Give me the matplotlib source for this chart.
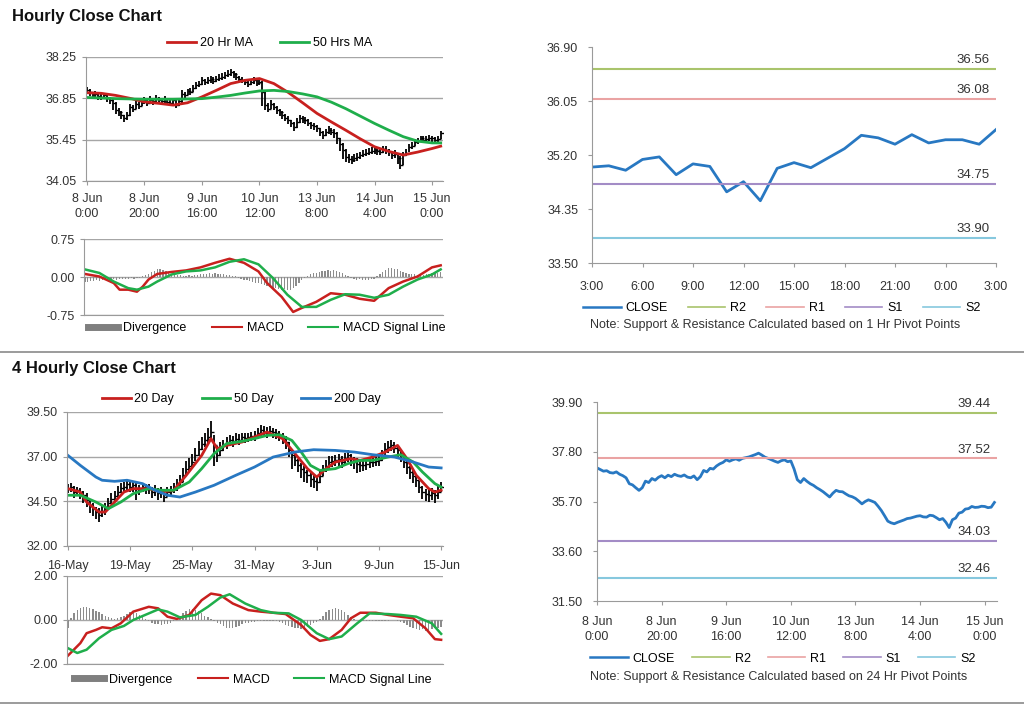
"""Hourly and 4-hourly close charts with MACD and pivot levels."""

import matplotlib

matplotlib.use("Agg")

import matplotlib.pyplot as plt
from matplotlib.lines import Line2D
from matplotlib.ticker import FormatStrFormatter

plt.rcParams["font.family"] = ["Liberation Sans", "DejaVu Sans"]

# ---------------- hourly data (8 Jun 0:00 -> 15 Jun ~3:00) ----------------
hourly_close = [
    37.12, 37.05, 36.98, 37.00, 36.92, 36.90, 36.95, 36.85, 36.79, 36.70,
    36.45, 36.40, 36.28, 36.17, 36.28, 36.56, 36.50, 36.67, 36.60, 36.72,
    36.79, 36.70, 36.81, 36.75, 36.85, 36.79, 36.76, 36.82, 36.73, 36.70,
    36.78, 36.62, 36.75, 37.01, 36.95, 37.10, 37.07, 37.20, 37.29, 37.35,
    37.46, 37.40, 37.46, 37.50, 37.44, 37.52, 37.55, 37.58, 37.63, 37.68,
    37.74, 37.66, 37.57, 37.52, 37.46, 37.40, 37.35, 37.42, 37.46, 37.38,
    37.41, 37.07, 36.62, 36.50, 36.67, 36.55, 36.45, 36.38, 36.28, 36.20,
    36.11, 36.00, 35.89, 36.05, 36.17, 36.12, 36.11, 36.02, 35.94, 35.90,
    35.83, 35.72, 35.60, 35.70, 35.77, 35.72, 35.66, 35.50, 35.32, 35.10,
    34.87, 34.80, 34.76, 34.82, 34.87, 34.92, 34.98, 35.00, 35.04, 35.08,
    35.10, 35.05, 35.04, 35.12, 35.10, 35.02, 34.93, 34.98, 34.82, 34.60,
    34.93, 35.00, 35.21, 35.25, 35.38, 35.40, 35.49, 35.45, 35.46, 35.50,
    35.49, 35.44, 35.46, 35.66,
]
hourly_high = [
    37.25, 37.15, 37.08, 37.10, 37.02, 36.98, 37.02, 36.97, 36.88, 36.82,
    36.72, 36.52, 36.42, 36.30, 36.38, 36.65, 36.62, 36.76, 36.72, 36.80,
    36.90, 36.82, 36.92, 36.86, 36.95, 36.90, 36.86, 36.92, 36.84, 36.80,
    36.86, 36.78, 36.85, 37.12, 37.08, 37.18, 37.20, 37.30, 37.40, 37.45,
    37.58, 37.52, 37.56, 37.60, 37.56, 37.62, 37.66, 37.70, 37.74, 37.80,
    37.86, 37.78, 37.70, 37.62, 37.56, 37.50, 37.46, 37.52, 37.58, 37.50,
    37.52, 37.45, 37.10, 36.70, 36.80, 36.70, 36.58, 36.50, 36.42, 36.32,
    36.24, 36.12, 36.05, 36.18, 36.28, 36.25, 36.22, 36.14, 36.06, 36.02,
    35.96, 35.86, 35.75, 35.82, 35.90, 35.84, 35.80, 35.70, 35.52, 35.35,
    35.12, 34.95, 34.90, 34.95, 35.00, 35.04, 35.10, 35.12, 35.16, 35.20,
    35.22, 35.18, 35.16, 35.24, 35.22, 35.14, 35.06, 35.10, 35.00, 34.90,
    35.04, 35.12, 35.32, 35.36, 35.48, 35.52, 35.58, 35.56, 35.57, 35.60,
    35.58, 35.55, 35.57, 35.75,
]
hourly_low = [
    37.00, 36.92, 36.86, 36.88, 36.80, 36.78, 36.82, 36.74, 36.66, 36.45,
    36.32, 36.26, 36.15, 36.05, 36.12, 36.25, 36.38, 36.48, 36.50, 36.58,
    36.66, 36.60, 36.68, 36.64, 36.72, 36.68, 36.65, 36.70, 36.62, 36.58,
    36.65, 36.52, 36.58, 36.70, 36.85, 36.95, 36.96, 37.05, 37.15, 37.22,
    37.30, 37.30, 37.34, 37.38, 37.34, 37.40, 37.44, 37.46, 37.52, 37.56,
    37.60, 37.54, 37.46, 37.42, 37.36, 37.30, 37.24, 37.30, 37.35, 37.28,
    37.30, 36.60, 36.45, 36.38, 36.50, 36.44, 36.33, 36.26, 36.16, 36.08,
    35.98, 35.88, 35.76, 35.86, 36.02, 36.00, 35.98, 35.90, 35.82, 35.78,
    35.70, 35.58, 35.48, 35.56, 35.64, 35.60, 35.52, 35.30, 35.05, 34.80,
    34.70, 34.66, 34.62, 34.68, 34.74, 34.80, 34.86, 34.88, 34.92, 34.96,
    34.98, 34.94, 34.92, 35.00, 34.98, 34.90, 34.80, 34.84, 34.62, 34.45,
    34.60, 34.88, 35.02, 35.12, 35.25, 35.30, 35.38, 35.35, 35.36, 35.40,
    35.38, 35.34, 35.36, 35.48,
]
hourly_ticks = ["8 Jun\n0:00", "8 Jun\n20:00", "9 Jun\n16:00", "10 Jun\n12:00",
                "13 Jun\n8:00", "14 Jun\n4:00", "15 Jun\n0:00"]

ma_x = [0, 5, 10, 15, 20, 25, 30, 35, 40, 45, 50, 55, 60, 65, 70, 75, 80, 85,
        90, 95, 100, 105, 110, 115, 120, 123]
ma20_hr = [37.04, 37.02, 36.95, 36.85, 36.73, 36.68, 36.62, 36.70, 36.90, 37.12,
           37.35, 37.46, 37.52, 37.35, 37.05, 36.70, 36.34, 36.05, 35.77, 35.48,
           35.21, 35.05, 34.93, 35.03, 35.15, 35.23]
ma50_hr = [36.88, 36.86, 36.84, 36.83, 36.82, 36.82, 36.82, 36.83, 36.84, 36.89,
           36.95, 37.03, 37.10, 37.12, 37.08, 37.00, 36.90, 36.72, 36.50, 36.25,
           36.00, 35.77, 35.55, 35.40, 35.34, 35.34]

macd_hr_x = [0, 5, 10, 12, 15, 18, 20, 22, 25, 30, 35, 40, 45, 50, 55, 60, 63,
             68, 72, 75, 80, 85, 90, 95, 100, 105, 110, 115, 120, 123]
macd_hr = [0.06, 0.01, -0.12, -0.25, -0.25, -0.29, -0.19, -0.05, 0.06, 0.10,
           0.13, 0.19, 0.28, 0.36, 0.28, 0.11, -0.12, -0.39, -0.69, -0.61,
           -0.49, -0.32, -0.35, -0.43, -0.47, -0.22, -0.09, 0.01, 0.19, 0.23]
signal_hr_x = [0, 5, 10, 15, 18, 22, 25, 30, 35, 40, 45, 50, 55, 60, 65, 70, 75,
               80, 85, 90, 95, 100, 105, 110, 115, 120, 123]
signal_hr = [0.15, 0.08, -0.09, -0.22, -0.25, -0.19, -0.09, 0.05, 0.11, 0.13,
             0.19, 0.30, 0.35, 0.25, -0.02, -0.35, -0.59, -0.59, -0.45, -0.34,
             -0.35, -0.41, -0.35, -0.19, -0.05, 0.05, 0.15]
div_hr = [
    -0.09, -0.10, -0.08, -0.07, -0.06, -0.07, -0.05, -0.06, -0.04, -0.05,
    -0.04, -0.05, -0.03, -0.04, -0.03, -0.03, -0.02, -0.03, -0.02, -0.01,
    0.01, 0.03, 0.06, 0.09, 0.12, 0.15, 0.16, 0.14, 0.12, 0.09,
    0.06, 0.05, 0.04, 0.03, 0.02, 0.02, 0.03, 0.02, 0.03, 0.04,
    0.05, 0.06, 0.05, 0.07, 0.06, 0.07, 0.06, 0.05, 0.05, 0.04,
    0.03, 0.02, 0.01, -0.01, -0.03, -0.05, -0.06, -0.08, -0.10, -0.11,
    -0.12, -0.14, -0.16, -0.18, -0.20, -0.22, -0.21, -0.23, -0.25, -0.24,
    -0.26, -0.25, -0.22, -0.18, -0.12, -0.06, -0.02, 0.02, 0.05, 0.07,
    0.08, 0.10, 0.11, 0.12, 0.13, 0.12, 0.14, 0.12, 0.10, 0.07,
    0.03, 0.01, -0.02, -0.04, -0.05, -0.04, -0.05, -0.06, -0.05, -0.04,
    -0.03, 0.02, 0.06, 0.10, 0.14, 0.17, 0.18, 0.16, 0.15, 0.12,
    0.10, 0.08, 0.06, 0.05, 0.05, 0.04, 0.05, 0.04, 0.05, 0.06,
    0.07, 0.08, 0.08, 0.09,
]

# 1 hr pivot chart (last 24 hours)
pivot1_labels = ["3:00", "6:00", "9:00", "12:00", "15:00", "18:00", "21:00", "0:00", "3:00"]
pivot1_close = [35.01, 35.03, 34.96, 35.13, 35.17, 34.89, 35.06, 35.02, 34.62, 34.78,
                34.48, 34.99, 35.08, 35.00, 35.15, 35.30, 35.51, 35.47, 35.37, 35.52,
                35.39, 35.44, 35.44, 35.37, 35.60]
pivot1_levels = {"R2": 36.56, "R1": 36.08, "S1": 34.75, "S2": 33.90}

# 24 hr pivot chart (hourly closes)
pivot24_levels = {"R2": 39.44, "R1": 37.52, "S1": 34.03, "S2": 32.46}

# ---------------- 4 hourly data (16 May -> 15 Jun) ----------------
fourh_close = [
    35.21, 35.30, 35.05, 35.12, 35.00, 34.84, 34.60, 34.28, 34.10, 33.90,
    33.72, 33.95, 34.09, 34.40, 34.65, 34.80, 35.02, 35.25, 35.30, 35.45,
    35.30, 35.40, 35.21, 35.15, 35.30, 35.20, 35.21, 35.00, 35.12, 34.95,
    35.02, 34.75, 35.02, 35.10, 35.21, 35.40, 35.58, 35.95, 36.33, 36.50,
    36.70, 37.10, 37.45, 37.70, 37.91, 38.10, 38.38, 37.63, 37.07, 37.40,
    37.63, 37.80, 37.91, 37.85, 38.01, 37.95, 38.10, 38.05, 38.10, 38.15,
    38.19, 38.30, 38.47, 38.40, 38.38, 38.45, 38.38, 38.30, 38.19, 38.05,
    37.82, 37.40, 37.07, 36.80, 36.51, 36.30, 36.14, 35.95, 35.77, 35.65,
    35.58, 35.90, 36.23, 36.50, 36.70, 36.75, 36.79, 36.85, 36.70, 36.90,
    37.07, 36.85, 36.70, 36.60, 36.51, 36.55, 36.61, 36.70, 36.70, 36.75,
    36.79, 37.10, 37.45, 37.55, 37.63, 37.50, 37.35, 37.05, 36.70, 36.40,
    36.14, 35.90, 35.68, 35.30, 35.02, 34.90, 34.84, 34.95, 34.84, 35.00,
    35.30,
]
fourh_high = [
    35.45, 35.50, 35.35, 35.32, 35.25, 35.10, 34.95, 34.60, 34.40, 34.20,
    34.10, 34.25, 34.40, 34.70, 34.95, 35.10, 35.35, 35.55, 35.60, 35.70,
    35.60, 35.65, 35.50, 35.42, 35.55, 35.45, 35.48, 35.30, 35.40, 35.25,
    35.30, 35.10, 35.30, 35.35, 35.50, 35.75, 35.95, 36.35, 36.75, 36.95,
    37.15, 37.50, 37.85, 38.10, 38.30, 38.60, 39.00, 38.20, 37.60, 37.80,
    37.95, 38.10, 38.20, 38.15, 38.30, 38.25, 38.35, 38.30, 38.35, 38.40,
    38.45, 38.60, 38.75, 38.70, 38.65, 38.70, 38.62, 38.55, 38.45, 38.35,
    38.15, 37.80, 37.45, 37.15, 36.85, 36.65, 36.45, 36.25, 36.10, 35.95,
    35.90, 36.20, 36.55, 36.80, 37.05, 37.05, 37.10, 37.15, 37.05, 37.20,
    37.40, 37.15, 37.00, 36.90, 36.85, 36.85, 36.90, 37.00, 37.00, 37.05,
    37.10, 37.40, 37.75, 37.85, 37.95, 37.80, 37.65, 37.40, 37.05, 36.75,
    36.45, 36.25, 36.00, 35.65, 35.35, 35.20, 35.15, 35.25, 35.15, 35.35,
    35.60,
]
fourh_low = [
    34.95, 35.00, 34.70, 34.80, 34.65, 34.40, 34.20, 33.85, 33.70, 33.50,
    33.35, 33.60, 33.75, 34.05, 34.35, 34.50, 34.70, 34.95, 35.00, 35.10,
    35.00, 35.05, 34.60, 34.85, 35.00, 34.90, 34.90, 34.70, 34.80, 34.55,
    34.70, 34.45, 34.75, 34.80, 34.95, 35.10, 35.30, 35.60, 35.95, 36.15,
    36.35, 36.75, 37.05, 37.35, 37.55, 37.75, 37.90, 36.50, 36.70, 37.05,
    37.30, 37.45, 37.60, 37.55, 37.70, 37.65, 37.80, 37.75, 37.80, 37.85,
    37.90, 38.00, 38.15, 38.10, 38.05, 38.15, 38.05, 38.00, 37.90, 37.70,
    37.45, 37.00, 36.30, 36.45, 36.15, 35.80, 35.60, 35.55, 35.30, 35.25,
    35.10, 35.55, 35.90, 36.15, 36.35, 36.40, 36.45, 36.50, 36.35, 36.55,
    36.70, 36.45, 36.30, 36.10, 36.15, 36.20, 36.25, 36.35, 36.40, 36.45,
    36.50, 36.75, 37.10, 37.20, 37.30, 37.20, 37.00, 36.70, 36.35, 36.05,
    35.75, 35.55, 35.30, 34.95, 34.65, 34.50, 34.45, 34.60, 34.40, 34.65,
    35.00,
]
fourh_ticks = ["16-May", "19-May", "25-May", "31-May", "3-Jun", "9-Jun", "15-Jun"]

ma20_4h_x = [0, 4, 6, 10, 12, 15, 18, 21, 26, 30, 34, 38, 43, 46, 48, 51, 56,
             60, 64, 69, 73, 77, 80, 83, 86, 91, 94, 98, 102, 106, 109, 112,
             116, 118, 120]
ma20_4h = [35.21, 35.02, 34.46, 33.90, 33.90, 34.46, 35.02, 35.21, 35.21, 35.02,
           35.12, 35.95, 37.07, 38.01, 37.45, 37.63, 37.82, 38.10, 38.38, 38.01,
           37.17, 36.33, 35.86, 36.33, 36.70, 36.89, 36.79, 36.98, 37.26, 37.63,
           36.89, 35.96, 35.21, 35.02, 35.12]
ma50_4h_x = [0, 4, 9, 13, 17, 21, 26, 30, 34, 39, 43, 47, 51, 56, 60, 64, 68, 72,
             75, 78, 81, 86, 90, 94, 98, 103, 107, 111, 114, 118, 120]
ma50_4h = [34.84, 34.84, 34.46, 34.09, 34.46, 34.93, 35.21, 35.12, 35.12, 35.58,
           36.33, 37.17, 37.73, 37.86, 38.01, 38.19, 38.23, 37.91, 37.26, 36.51,
           36.23, 36.33, 36.61, 36.79, 36.79, 36.98, 37.11, 36.70, 36.14, 35.49,
           35.30]
ma200_4h_x = [0, 4, 9, 11, 15, 19, 24, 28, 32, 36, 41, 47, 54, 60, 66, 73, 79,
              86, 92, 98, 105, 111, 116, 120]
ma200_4h = [37.07, 36.51, 35.86, 35.68, 35.62, 35.68, 35.49, 35.12, 34.84, 34.74,
            35.02, 35.40, 35.96, 36.42, 36.98, 37.26, 37.39, 37.35, 37.26, 37.11,
            36.98, 36.70, 36.42, 36.37]

macd_4h_x = [0, 4, 6, 9, 11, 14, 17, 21, 26, 29, 32, 35, 39, 43, 46, 49, 53, 58,
             62, 66, 70, 75, 78, 81, 84, 88, 91, 94, 99, 103, 107, 111, 115,
             118, 120]
macd_4h = [-1.62, -1.05, -0.60, -0.45, -0.33, -0.38, -0.15, 0.38, 0.60, 0.53,
           0.15, 0.05, 0.23, 0.90, 1.20, 1.13, 0.75, 0.45, 0.38, 0.33,
           0.27, -0.23, -0.68, -0.95, -0.87, -0.45, 0.08, 0.33, 0.33, 0.23,
           0.15, 0.08, -0.38, -0.87, -0.90]
signal_4h_x = [0, 3, 6, 10, 14, 18, 21, 26, 29, 32, 36, 41, 45, 49, 52, 57, 62,
               66, 71, 75, 80, 84, 88, 93, 97, 103, 107, 112, 117, 120]
signal_4h = [-1.28, -1.50, -1.35, -0.83, -0.45, -0.27, 0.00, 0.30, 0.48, 0.38,
             0.12, 0.23, 0.60, 1.02, 1.17, 0.75, 0.45, 0.33, 0.30, 0.00,
             -0.60, -0.87, -0.75, -0.15, 0.30, 0.27, 0.23, 0.15, -0.15, -0.63]
div_4h = [
    -0.35, 0.10, 0.30, 0.45, 0.55, 0.60, 0.58, 0.55, 0.48, 0.42,
    0.35, 0.28, 0.20, 0.15, 0.10, 0.06, 0.08, 0.15, 0.20, 0.28,
    0.35, 0.38, 0.30, 0.22, 0.12, 0.05, -0.05, -0.12, -0.18, -0.20,
    -0.22, -0.20, -0.18, -0.12, -0.05, 0.05, 0.15, 0.30, 0.42, 0.48,
    0.50, 0.45, 0.40, 0.30, 0.20, 0.12, 0.05, -0.05, -0.12, -0.20,
    -0.28, -0.35, -0.38, -0.36, -0.30, -0.25, -0.20, -0.15, -0.12, -0.10,
    -0.08, -0.06, -0.05, -0.04, -0.05, -0.04, -0.03, -0.05, -0.10, -0.15,
    -0.22, -0.28, -0.32, -0.35, -0.38, -0.40, -0.35, -0.30, -0.22, -0.15,
    -0.08, 0.05, 0.20, 0.35, 0.45, 0.50, 0.55, 0.52, 0.45, 0.35,
    0.25, 0.12, 0.05, -0.02, -0.05, -0.06, -0.05, -0.06, -0.04, -0.05,
    -0.06, -0.05, -0.04, -0.03, -0.02, 0.02, -0.03, -0.08, -0.15, -0.22,
    -0.30, -0.35, -0.40, -0.45, -0.42, -0.48, -0.45, -0.40, -0.35, -0.38,
    -0.30,
]

# ---------------- styling ----------------
RED = "#c8201e"
GREEN = "#1fae4b"
BLUE = "#2878c2"
GRID = "#a6a6a6"
SPINE = "#9a9a9a"
TXT = "#333333"
LEVEL_COLORS = {"R2": "#a9c46c", "R1": "#eaa3a3", "S1": "#a38cc6", "S2": "#86c8de"}

W, H = 1024, 706
fig = plt.figure(figsize=(W / 100, H / 100), dpi=100)


def add_ax(left, top, right, bottom):
    ax = fig.add_axes([left / W, 1 - bottom / H, (right - left) / W, (bottom - top) / H])
    for side in ("top", "right"):
        ax.spines[side].set_visible(False)
    for side in ("left", "bottom"):
        ax.spines[side].set_color(SPINE)
    ax.tick_params(direction="out", length=3, color=SPINE, labelsize=9, labelcolor=TXT)
    ax.set_axisbelow(True)
    return ax


def grid_y(ax):
    ax.yaxis.grid(True, color=GRID, lw=1)


def ohlc(ax, x, low, high, close):
    ax.vlines(x, low, high, color="black", lw=1.3)
    ax.plot(x, close, ls="none", marker=1, ms=2.2, mew=1, color="black")


def pivot_levels(ax, levels):
    for name, val in levels.items():
        ax.axhline(val, color=LEVEL_COLORS[name], lw=1.5)
        ax.annotate(f"{val:.2f}", xy=(0.985, val), xycoords=("axes fraction", "data"),
                    xytext=(0, 2), textcoords="offset points",
                    ha="right", va="bottom", fontsize=9.5, color=TXT)


def macd_legend(ax, x, y):
    handles = [Line2D([], [], color="#7f7f7f", lw=5),
               Line2D([], [], color=RED, lw=1.5),
               Line2D([], [], color=GREEN, lw=1.5)]
    ax.legend(handles, ["Divergence", "MACD", "MACD Signal Line"], ncol=3,
              loc="center", bbox_to_anchor=(x, y), frameon=False, fontsize=9,
              handlelength=2.4, columnspacing=2.0, handletextpad=0.4)


def pivot_legend(ax, bbox, levels):
    handles = [Line2D([], [], color=BLUE, lw=1.8)]
    handles += [Line2D([], [], color=LEVEL_COLORS[n], lw=1.2) for n in levels]
    ax.legend(handles, ["CLOSE"] + list(levels), ncol=5, loc="center",
              bbox_to_anchor=bbox, mode="expand", frameon=False, fontsize=9,
              handlelength=3.0, handletextpad=0.4)


# titles and separators
fig.text(12 / W, 1 - 16 / H, "Hourly Close Chart", fontsize=12, fontweight="bold",
         va="center", ha="left", color="#111111")
fig.text(12 / W, 1 - 369 / H, "4 Hourly Close Chart", fontsize=12, fontweight="bold",
         va="center", ha="left", color="#111111")
for yy in (352, 703):
    fig.add_artist(Line2D([0, 1], [1 - yy / H, 1 - yy / H], color="#8a8a8a", lw=1.2))

hours = list(range(len(hourly_close)))
hour_tick_pos = [0, 20, 40, 60, 80, 100, 120]

# ---- hourly price ----
ax = add_ax(86, 57, 443, 181)
ohlc(ax, hours, hourly_low, hourly_high, hourly_close)
ax.plot(ma_x, ma20_hr, color=RED, lw=2, label="20 Hr MA")
ax.plot(ma_x, ma50_hr, color=GREEN, lw=2, label="50 Hrs MA")
ax.set_ylim(34.05, 38.25)
ax.set_yticks([34.05, 35.45, 36.85, 38.25])
ax.yaxis.set_major_formatter(FormatStrFormatter("%.2f"))
grid_y(ax)
ax.set_xlim(-0.3, 123.8)
ax.set_xticks(hour_tick_pos)
ax.set_xticklabels(hourly_ticks, linespacing=1.25)
ax.tick_params(axis="x", pad=6)
ax.legend(ncol=2, loc="center", bbox_to_anchor=(0.515, 1.113), frameon=False,
          fontsize=9, handlelength=2.3, columnspacing=2.2, handletextpad=0.3)

# ---- hourly MACD ----
ax = add_ax(84, 239, 443, 315)
ax.bar(hours, div_hr, width=0.45, color="#8c8c8c")
ax.plot(macd_hr_x, macd_hr, color=RED, lw=1.8)
ax.plot(signal_hr_x, signal_hr, color=GREEN, lw=1.8)
ax.set_ylim(-0.75, 0.75)
ax.set_yticks([-0.75, 0.0, 0.75])
ax.yaxis.set_major_formatter(FormatStrFormatter("%.2f"))
grid_y(ax)
ax.set_xlim(-0.3, 123.8)
ax.set_xticks([])
macd_legend(ax, 0.51, -0.17)

# ---- 1 hr pivot ----
ax = add_ax(592, 47, 996, 263)
ax.plot(range(len(pivot1_close)), pivot1_close, color=BLUE, lw=2)
pivot_levels(ax, pivot1_levels)
ax.set_ylim(33.50, 36.90)
ax.set_yticks([33.50, 34.35, 35.20, 36.05, 36.90])
ax.yaxis.set_major_formatter(FormatStrFormatter("%.2f"))
ax.set_xlim(0, 24)
ax.set_xticks(range(0, 25, 3))
ax.set_xticklabels(pivot1_labels)
ax.tick_params(axis="x", pad=10)
ax.tick_params(axis="y", pad=7)
pivot_legend(ax, (-0.05, -0.25, 1.04, 0.08), pivot1_levels)
fig.text(775 / W, 1 - 325 / H,
         "Note: Support & Resistance Calculated based on 1 Hr Pivot Points",
         ha="center", va="center", fontsize=9, color=TXT)

# ---- 4 hourly price ----
bars4 = list(range(len(fourh_close)))
ax = add_ax(67, 412, 443, 546)
ohlc(ax, bars4, fourh_low, fourh_high, fourh_close)
ax.plot(ma20_4h_x, ma20_4h, color=RED, lw=2, label="20 Day")
ax.plot(ma50_4h_x, ma50_4h, color=GREEN, lw=2, label="50 Day")
ax.plot(ma200_4h_x, ma200_4h, color=BLUE, lw=2, label="200 Day")
ax.set_ylim(32.0, 39.5)
ax.set_yticks([32.0, 34.5, 37.0, 39.5])
ax.yaxis.set_major_formatter(FormatStrFormatter("%.2f"))
grid_y(ax)
ax.set_xlim(-0.3, 120.6)
ax.set_xticks([0, 20, 40, 60, 80, 100, 120])
ax.set_xticklabels(fourh_ticks)
ax.tick_params(axis="x", pad=7)
ax.legend(ncol=3, loc="center", bbox_to_anchor=(0.463, 1.097), frameon=False,
          fontsize=9, handlelength=2.3, columnspacing=2.2, handletextpad=0.3)

# ---- 4 hourly MACD ----
ax = add_ax(67, 576, 443, 664)
ax.bar(bars4, div_4h, width=0.45, color="#8c8c8c")
ax.plot(macd_4h_x, macd_4h, color=RED, lw=1.8)
ax.plot(signal_4h_x, signal_4h, color=GREEN, lw=1.8)
ax.set_ylim(-2.0, 2.0)
ax.set_yticks([-2.0, 0.0, 2.0])
ax.yaxis.set_major_formatter(FormatStrFormatter("%.2f"))
grid_y(ax)
ax.set_xlim(-0.3, 120.6)
ax.set_xticks([])
macd_legend(ax, 0.495, -0.18)

# ---- 24 hr pivot ----
ax = add_ax(597, 402, 997, 601)
ax.plot(hours, hourly_close, color=BLUE, lw=2)
pivot_levels(ax, pivot24_levels)
ax.set_ylim(31.50, 39.90)
ax.set_yticks([31.50, 33.60, 35.70, 37.80, 39.90])
ax.yaxis.set_major_formatter(FormatStrFormatter("%.2f"))
ax.set_xlim(0, 123.8)
ax.set_xticks(hour_tick_pos)
ax.set_xticklabels(hourly_ticks, linespacing=1.25)
ax.tick_params(axis="x", pad=8)
ax.tick_params(axis="y", pad=7)
pivot_legend(ax, (-0.045, -0.33, 1.02, 0.08), pivot24_levels)
fig.text(779 / W, 1 - 677 / H,
         "Note: Support & Resistance Calculated based on 24 Hr Pivot Points",
         ha="center", va="center", fontsize=9, color=TXT)

fig.savefig("out.png", dpi=100)
